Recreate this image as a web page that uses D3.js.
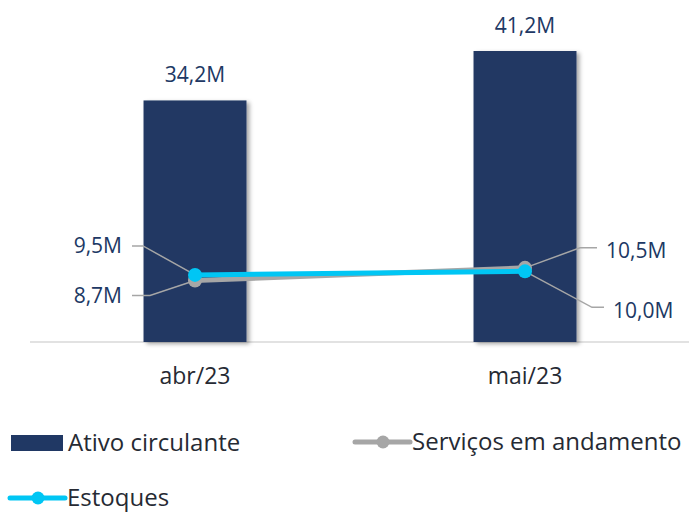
<!DOCTYPE html>
<html>
<head>
<meta charset="utf-8">
<script src="https://cdn.jsdelivr.net/npm/d3@7"></script>
<style>
  body { margin: 0; background: #fff; }
  text { font-family: "Open Sans", sans-serif; }
</style>
</head>
<body>
<div id="chart"></div>
<script>
// chart data
const months = ["abr/23", "mai/23"];
const ativoCirculante = [34.2, 41.2];
const servicosAndamento = [8.7, 10.5];
const estoques = [9.5, 10.0];
const seriesNames = ["Ativo circulante", "Serviços em andamento", "Estoques"];

const fmt = v => d3.format(".1f")(v).replace(".", ",") + "M";

const width = 689, height = 512;
const navy = "#203864", gray = "#A6A6A6", cyan = "#00C6F4";

let svg = d3.select("#chart").append("svg")
    .attr("width", width)
    .attr("height", height);

// soft shadow used on bars
let defs = svg.append("defs");
let shadow = defs.append("filter").attr("id", "shadow")
    .attr("x", "-20%").attr("y", "-20%").attr("width", "150%").attr("height", "150%");
shadow.append("feDropShadow")
    .attr("dx", 3).attr("dy", 2).attr("stdDeviation", 2)
    .attr("flood-color", "#000").attr("flood-opacity", 0.35);

let xScale = d3.scaleBand()
    .domain(months)
    .range([30, 690])
    .paddingInner(0.688)
    .paddingOuter(0.344);

let yScale = d3.scaleLinear()
    .domain([0, 41.2])
    .range([342, 51]);

const cx = m => xScale(m) + xScale.bandwidth() / 2;

// baseline
svg.append("line")
    .attr("x1", 30).attr("x2", width)
    .attr("y1", yScale(0)).attr("y2", yScale(0))
    .attr("stroke", "#D9D9D9").attr("stroke-width", 1.5);

// bars
svg.selectAll("rect.bar").data(ativoCirculante)
    .enter().append("rect")
    .classed("bar", true)
    .attr("x", (d, i) => xScale(months[i]))
    .attr("y", d => yScale(d))
    .attr("width", xScale.bandwidth())
    .attr("height", d => yScale(0) - yScale(d))
    .attr("fill", navy)
    .attr("filter", "url(#shadow)");

// bar value labels
svg.selectAll("text.barlabel").data(ativoCirculante)
    .enter().append("text")
    .classed("barlabel", true)
    .attr("x", (d, i) => cx(months[i]))
    .attr("y", d => yScale(d) - 18)
    .attr("text-anchor", "middle")
    .attr("font-size", 21)
    .attr("fill", navy)
    .text(fmt);

// category labels
svg.selectAll("text.cat").data(months)
    .enter().append("text")
    .classed("cat", true)
    .attr("x", d => cx(d))
    .attr("y", 384)
    .attr("text-anchor", "middle")
    .attr("font-size", 23)
    .attr("fill", "#262a33")
    .text(d => d);

// leader lines + labels for the line series
// offsets: [elbow dx, elbow dy, end dx] from the point, label on side
const leaders = [
    {values: servicosAndamento, idx: 0, ex: -45, ey: 15, end: -63},
    {values: estoques, idx: 0, ex: -52, ey: -29, end: -63},
    {values: servicosAndamento, idx: 1, ex: 55, ey: -20, end: 72},
    {values: estoques, idx: 1, ex: 67, ey: 36, end: 79}
];
leaders.forEach(l => {
    let px = cx(months[l.idx]), py = yScale(l.values[l.idx]);
    let ex = px + l.ex, ey = py + l.ey, endx = px + l.end;
    svg.append("polyline")
        .attr("points", [[px, py], [ex, ey], [endx, ey]].map(p => p.join(",")).join(" "))
        .attr("fill", "none")
        .attr("stroke", gray)
        .attr("stroke-width", 1.5);
    let left = l.end < 0;
    svg.append("text")
        .attr("x", left ? endx - 10 : endx + 9)
        .attr("y", ey + (left ? 0 : 3))
        .attr("dy", "0.35em")
        .attr("text-anchor", left ? "end" : "start")
        .attr("font-size", 21)
        .attr("fill", navy)
        .text(fmt(l.values[l.idx]));
});

// lines (serviços below, estoques on top)
let lineGen = d3.line()
    .x((d, i) => cx(months[i]))
    .y(d => yScale(d));

[[servicosAndamento, gray], [estoques, cyan]].forEach(([vals, color]) => {
    svg.append("path")
        .datum(vals)
        .attr("d", lineGen)
        .attr("fill", "none")
        .attr("stroke", color)
        .attr("stroke-width", 5);
    svg.selectAll(null).data(vals)
        .enter().append("circle")
        .attr("cx", (d, i) => cx(months[i]))
        .attr("cy", d => yScale(d))
        .attr("r", 7)
        .attr("fill", color);
});

// legend
let legend = svg.append("g").attr("font-size", 24).attr("fill", "#262a33");
const legendItems = [
    {name: seriesNames[0], x: 11, y: 443, type: "bar", color: navy},
    {name: seriesNames[1], x: 355, y: 442, type: "line", color: gray},
    {name: seriesNames[2], x: 10, y: 498, type: "line", color: cyan}
];
legendItems.forEach(it => {
    let g = legend.append("g").attr("transform", "translate(" + it.x + "," + it.y + ")");
    if (it.type == "bar") {
        g.append("rect").attr("x", 0).attr("y", -8).attr("width", 52).attr("height", 16).attr("fill", it.color);
    } else {
        g.append("line").attr("x1", 0).attr("x2", 55).attr("stroke", it.color).attr("stroke-width", 5).attr("stroke-linecap", "round");
        g.append("circle").attr("cx", 28).attr("r", 6.5).attr("fill", it.color);
    }
    g.append("text")
        .attr("x", 57)
        .attr("dy", "0.35em")
        .text(it.name);
});
</script>
</body>
</html>
